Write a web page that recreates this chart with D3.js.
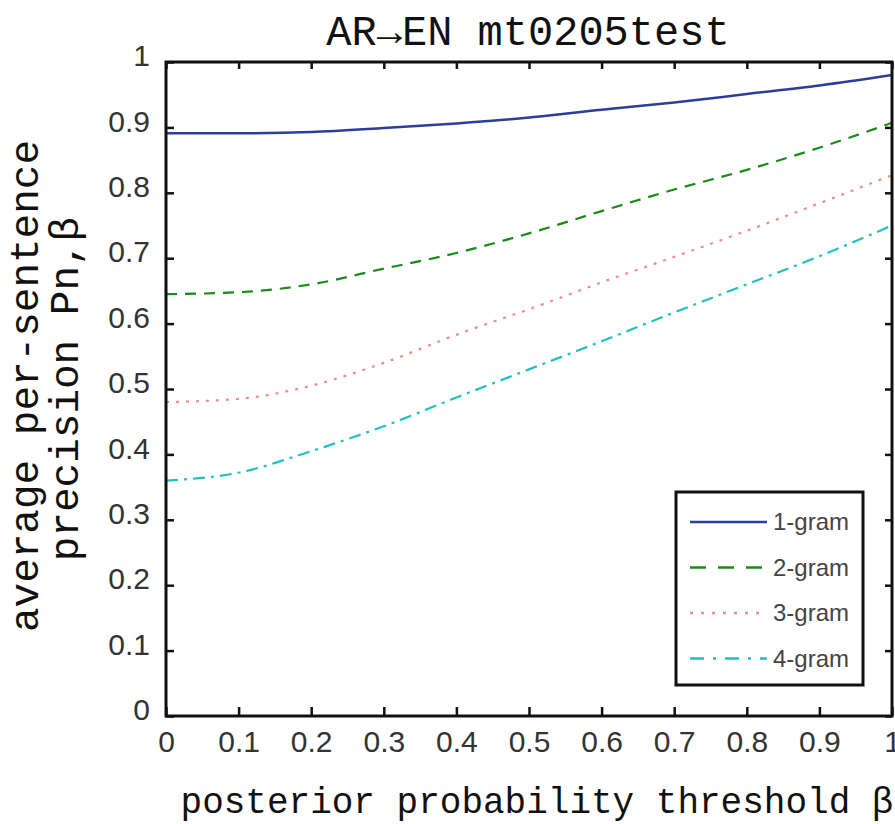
<html>
<title>AR-EN mt0205test precision</title>
<script src="https://d3js.org/d3.v7.min.js"></script>
<style>
  body { margin: 0; background: #fff; }
  .mono { font-family: "Liberation Mono", "Courier New", monospace; fill: #111; }
</style>
<body>
<div id="chart"></div>
<script>
// values
var betas = [0, 0.1, 0.2, 0.3, 0.4, 0.5, 0.6, 0.7, 0.8, 0.9, 1];
var gram1 = [0.891, 0.891, 0.893, 0.899, 0.906, 0.915, 0.927, 0.938, 0.951, 0.964, 0.980];
var gram2 = [0.645, 0.648, 0.660, 0.684, 0.708, 0.738, 0.772, 0.805, 0.835, 0.869, 0.907];
var gram3 = [0.480, 0.485, 0.505, 0.540, 0.583, 0.622, 0.663, 0.702, 0.742, 0.784, 0.827];
var gram4 = [0.360, 0.372, 0.405, 0.443, 0.487, 0.530, 0.573, 0.617, 0.660, 0.703, 0.750];
var seriesNames = ["1-gram", "2-gram", "3-gram", "4-gram"];
var xTicks = [0, 0.1, 0.2, 0.3, 0.4, 0.5, 0.6, 0.7, 0.8, 0.9, 1];
var yTicks = [0, 0.1, 0.2, 0.3, 0.4, 0.5, 0.6, 0.7, 0.8, 0.9, 1];

var colors = ["#2c3e9a", "#1a8a1a", "#f08c8c", "#22c0c0"];
var dashes = ["none", "11,8", "3,7", "12,6,3,6"];
var legendDashes = ["none", "16,12", "3,8", "14,9,3,9"];

var W = 895, H = 824;
var pLeft = 166, pTop = 62, pRight = 892, pBottom = 716;

var x = d3.scaleLinear().domain([0, 1]).range([pLeft, pRight]);
var y = d3.scaleLinear().domain([0, 1]).range([pBottom, pTop]);

var svg = d3.select("#chart").append("svg")
    .attr("width", W)
    .attr("height", H);

var all = [gram1, gram2, gram3, gram4];

// curves
var line = d3.line()
    .x(function(d, i) { return x(betas[i]); })
    .y(function(d) { return y(d); })
    .curve(d3.curveMonotoneX);

all.forEach(function(s, k) {
  svg.append("path")
    .datum(s)
    .attr("d", line)
    .attr("fill", "none")
    .attr("stroke", colors[k])
    .attr("stroke-width", k == 0 ? 2.5 : 2.2)
    .attr("stroke-dasharray", dashes[k]);
});

// axes, ticks pointing inward
var xAxis = svg.append("g")
    .attr("transform", "translate(0," + pBottom + ")")
    .call(d3.axisBottom(x).tickValues(xTicks).tickSize(-9)
      .tickFormat(function(d) { return String(d); }));
xAxis.selectAll(".tick text").attr("dy", "0.71em").attr("y", 15);

var yAxis = svg.append("g")
    .attr("transform", "translate(" + pLeft + ",0)")
    .call(d3.axisLeft(y).tickValues(yTicks).tickSize(-8)
      .tickFormat(function(d) { return String(d); }));
yAxis.selectAll(".tick text").attr("x", -16).attr("dy", "0.32em").attr("transform", "translate(0,-6)");

svg.selectAll(".tick text")
    .style("font-family", "Liberation Sans, Arial, sans-serif")
    .style("font-size", "30px")
    .attr("fill", "#333");

svg.append("g")
    .attr("transform", "translate(0," + pTop + ")")
    .call(d3.axisTop(x).tickValues(xTicks).tickSize(-7).tickFormat(""));
svg.append("g")
    .attr("transform", "translate(" + pRight + ",0)")
    .call(d3.axisRight(y).tickValues(yTicks).tickSize(-7).tickFormat(""));

svg.selectAll(".domain").remove();
svg.selectAll(".tick line").attr("stroke", "#111").attr("stroke-width", 2.5);

svg.append("rect")
    .attr("x", pLeft).attr("y", pTop)
    .attr("width", pRight - pLeft).attr("height", pBottom - pTop)
    .attr("fill", "none").attr("stroke", "#111").attr("stroke-width", 3);

// title and axis labels
svg.append("text").attr("class", "mono")
    .attr("x", 528).attr("y", 45)
    .attr("text-anchor", "middle")
    .style("font-size", "42px")
    .text("AR\u2192EN mt0205test");

svg.append("text").attr("class", "mono")
    .attr("x", 537).attr("y", 813)
    .attr("text-anchor", "middle")
    .style("font-size", "36px")
    .text("posterior probability threshold \u03b2");

svg.append("text").attr("class", "mono")
    .attr("transform", "translate(38,386)rotate(-90)")
    .attr("text-anchor", "middle")
    .style("font-size", "41px")
    .text("average per-sentence");

svg.append("text").attr("class", "mono")
    .attr("transform", "translate(78,389)rotate(-90)")
    .attr("text-anchor", "middle")
    .style("font-size", "41px")
    .text("precision Pn,\u03b2");

// legend
var lg = svg.append("g");
lg.append("rect")
    .attr("x", 676).attr("y", 492)
    .attr("width", 187).attr("height", 193)
    .attr("fill", "#fff").attr("stroke", "#111").attr("stroke-width", 3);

seriesNames.forEach(function(name, k) {
  var ly = 522 + k * 45.5;
  lg.append("line")
    .attr("x1", 690).attr("x2", 767)
    .attr("y1", ly).attr("y2", ly)
    .attr("stroke", colors[k])
    .attr("stroke-width", 2.5)
    .attr("stroke-dasharray", legendDashes[k]);
  lg.append("text")
    .attr("x", 773).attr("y", ly + 8)
    .style("font-family", "Liberation Sans, Arial, sans-serif")
    .style("font-size", "24px")
    .attr("fill", "#444")
    .text(name);
});
</script>
</body>
</html>
